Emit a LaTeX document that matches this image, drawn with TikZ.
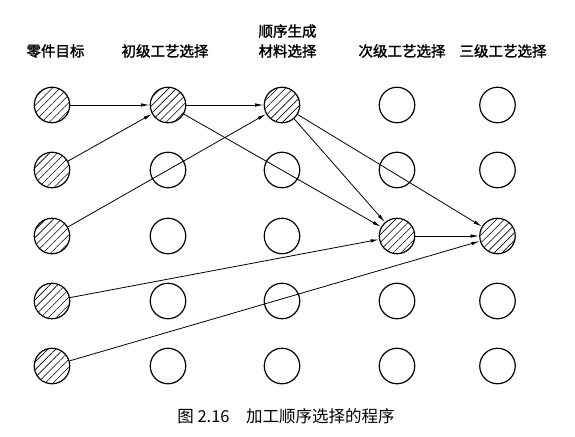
\documentclass[tikz,border=0pt]{standalone}
\usepackage{fontspec}
\setmainfont{Noto Sans CJK SC}
\newfontfamily\headfont{Noto Sans CJK SC}[FakeBold=1.6]
\usetikzlibrary{arrows.meta,patterns.meta}
\tikzset{>={Latex[length=8.5pt,width=3.4pt]}}

\begin{document}
\begin{tikzpicture}[x=1pt, y=-1pt,
  stage/.style={draw, circle, line width=1.2pt, minimum size=35.5pt, inner sep=0pt},
  hatch/.style={pattern={Lines[angle=45, distance=5.5pt, line width=0.6pt]}},
  flow/.style={->, line width=0.8pt},
  head/.style={font=\headfont\fontsize{14.5}{20}\selectfont, inner sep=0pt, align=center}]
\useasboundingbox (0,0) rectangle (575,436);
% column headings
\node[head] (part) at (55.5,51) {零件目标};
\node[head] (prim) at (165,51) {初级工艺选择};
\node[head] (mat) at (287.5,41) {顺序生成\\材料选择};
\node[head] (sec) at (402,51) {次级工艺选择};
\node[head] (tert) at (503,51) {三级工艺选择};
% grid of stages
\foreach \c/\x in {1/52,2/168,3/282,4/397,5/497.5}
  \foreach \r/\y in {1/105,2/170,3/236,4/301,5/366}
    \node[stage] (s\c\r) at (\x,\y) {};
\foreach \n in {s11,s12,s13,s14,s15,s21,s31,s43,s53}
  \path[hatch] (\n) circle [radius=17.2];
% chosen sequence
\draw[flow] (s11) -- (s21);
\draw[flow] (s12) -- (s21);
\draw[flow] (s21) -- (s31);
\draw[flow] (s13) -- (s31);
\draw[flow] (s21) -- (s43);
\draw[flow] (s31) -- (s43);
\draw[flow] (s31) -- (s53);
\draw[flow] (s14) -- (s43);
\draw[flow] (s15) -- (s53);
\draw[flow] (s43) -- (s53);
% caption
\node[font=\fontsize{16.5}{20}\selectfont, inner sep=0pt] (cap) at (286,416) {图 2.16\hspace{1em}加工顺序选择的程序};
\end{tikzpicture}
\end{document}
